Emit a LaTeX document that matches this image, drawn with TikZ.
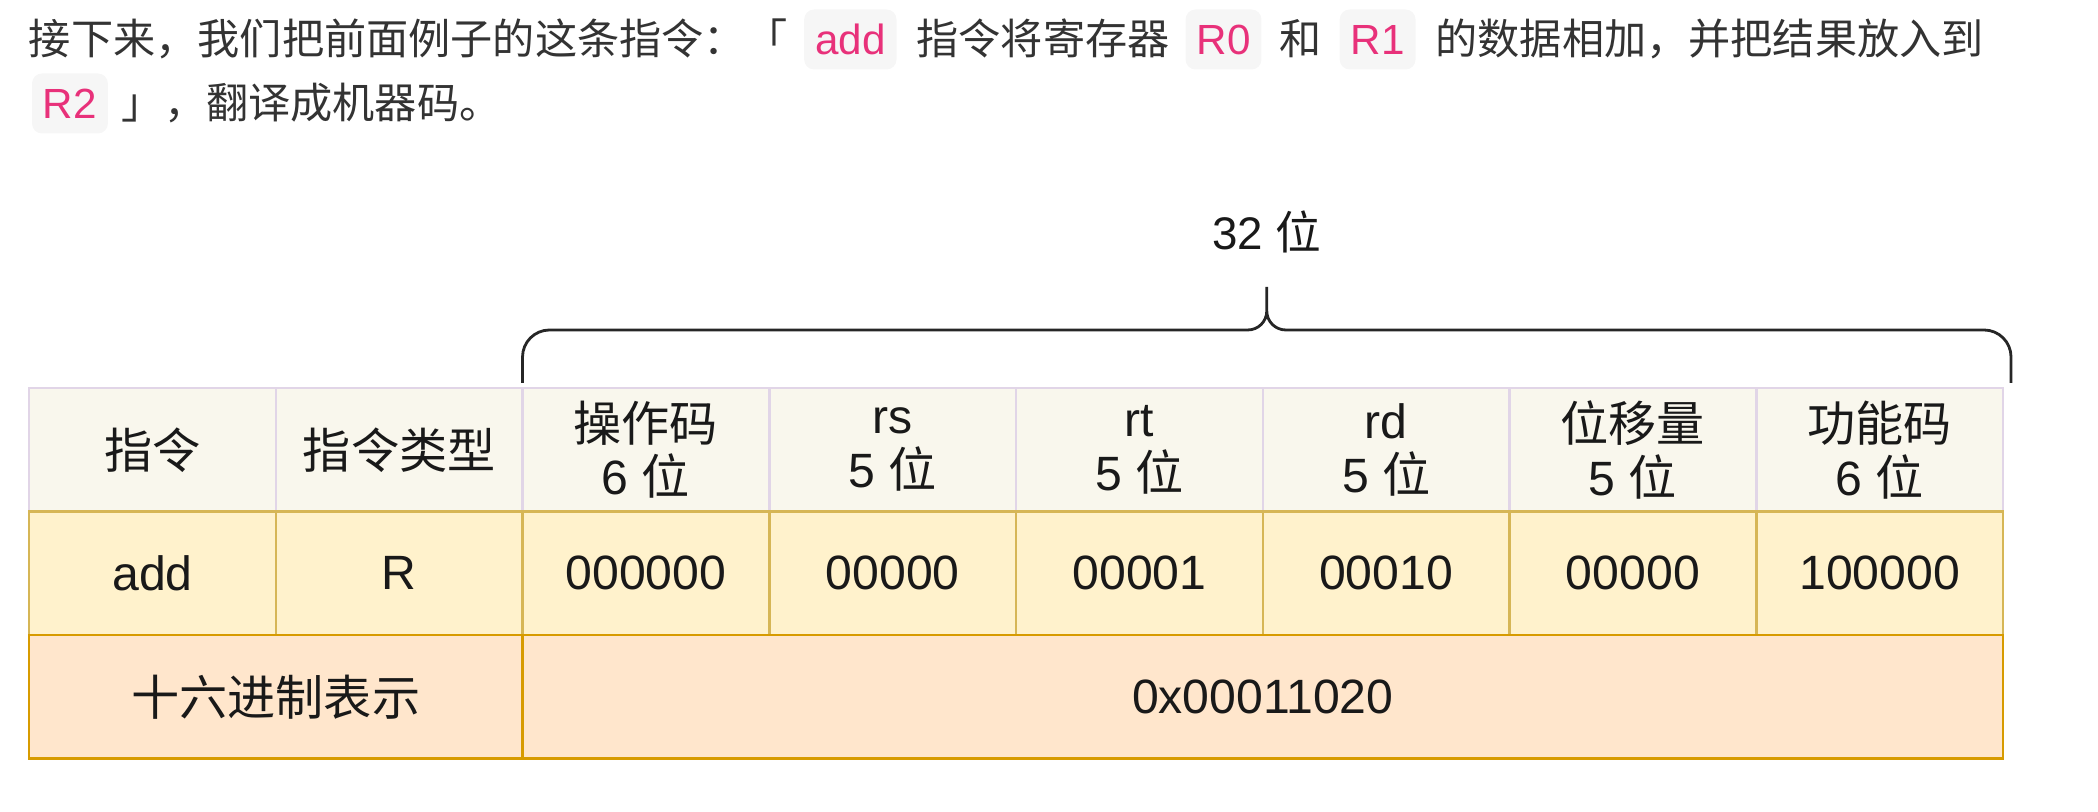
\documentclass[tikz,border=0pt]{standalone}
\usepackage{fontspec}
\setmainfont{Liberation Sans}
\newfontfamily\cjk{Noto Sans CJK SC}
\usetikzlibrary{positioning,calc}

\definecolor{headfill}{HTML}{F9F7ED}
\definecolor{headline}{HTML}{E1D5E7}
\definecolor{datafill}{HTML}{FFF2CC}
\definecolor{dataline}{HTML}{D6B656}
\definecolor{hexfill}{HTML}{FFE6CC}
\definecolor{hexline}{HTML}{D79B00}
\definecolor{codefill}{HTML}{F6F6F6}
\definecolor{codetext}{HTML}{E8317A}
\definecolor{bodytext}{HTML}{333333}

\newcommand{\zh}[1]{{\cjk #1}}
\newcommand{\bodyfont}{\fontsize{12}{14}\selectfont}
\newcommand{\tabfont}{\fontsize{13.7}{15.3}\selectfont}

\tikzset{
  txtpart/.style={inner sep=0pt, outer sep=0pt, text=bodytext, font=\bodyfont\cjk},
  codebox/.style={fill=codefill, text=codetext, font=\bodyfont, rounded corners=0.1cm, inner xsep=0.11cm, inner ysep=0.145cm, text height=0.31cm, text depth=0pt, outer sep=0pt},
  tabcell/.style={minimum width=2.4675cm, minimum height=1.235cm, inner sep=0pt, outer sep=0pt, align=center, line width=0.7pt, font=\tabfont, text=black!90},
  headcell/.style={tabcell, fill=headfill, draw=headline},
  datacell/.style={tabcell, fill=datafill, draw=dataline},
  hexcell/.style={tabcell, fill=hexfill, draw=hexline},
  bracel/.style={line width=0.8pt, draw=black!85},
}

\begin{document}
\begin{tikzpicture}
\useasboundingbox (0,0) rectangle (20.98,8.12);

%text
\node[txtpart, anchor=base west] (t1) at (0.29,7.57) {接下来，我们把前面例子的这条指令：「};
\node[codebox, base right=0.16cm of t1] (c1) {add};
\node[txtpart, base right=0.2cm of c1] (t2) {指令将寄存器};
\node[codebox, base right=0.16cm of t2] (c2) {R0};
\node[txtpart, base right=0.18cm of c2] (t3) {和};
\node[codebox, base right=0.18cm of t3] (c3) {R1};
\node[txtpart, base right=0.2cm of c3] (t4) {的数据相加，并把结果放入到};
\node[codebox, anchor=base west] (c4) at (0.32,6.93) {R2};
\node[txtpart, base right=0.14cm of c4] (t5) {」，翻译成机器码。};

%header
\node[headcell] (h1) at (1.524,3.6225) {\zh{指令}};
\node[headcell, right=0pt of h1] (h2) {\zh{指令类型}};
\node[headcell, right=0pt of h2] (h3) {\zh{操作码}\\6 \zh{位}};
\node[headcell, right=0pt of h3] (h4) {rs\\5 \zh{位}};
\node[headcell, right=0pt of h4] (h5) {rt\\5 \zh{位}};
\node[headcell, right=0pt of h5] (h6) {rd\\5 \zh{位}};
\node[headcell, right=0pt of h6] (h7) {\zh{位移量}\\5 \zh{位}};
\node[headcell, right=0pt of h7] (h8) {\zh{功能码}\\6 \zh{位}};

%data
\node[datacell, below=0pt of h1] (d1) {add};
\node[datacell, right=0pt of d1] (d2) {R};
\node[datacell, right=0pt of d2] (d3) {000000};
\node[datacell, right=0pt of d3] (d4) {00000};
\node[datacell, right=0pt of d4] (d5) {00001};
\node[datacell, right=0pt of d5] (d6) {00010};
\node[datacell, right=0pt of d6] (d7) {00000};
\node[datacell, right=0pt of d7] (d8) {100000};

%hex
\node[hexcell, minimum width=4.935cm, anchor=north west] (x1) at (d1.south west) {\zh{十六进制表示}};
\node[hexcell, minimum width=14.805cm, right=0pt of x1] (x2) {0x00011020};

%brace
\coordinate (bl) at ([yshift=0.05cm]h3.north west);
\coordinate (br) at ([xshift=0.08cm,yshift=0.05cm]h8.north east);
\coordinate (tip) at ($(bl)!0.5!(br)+(0,0.96)$);
\draw[bracel] (bl) -- ++(0,0.26) arc (180:90:0.27) -- ($(tip)+(-0.19,-0.43)$) arc (270:360:0.19) -- (tip)
  -- ++(0,-0.24) arc (180:270:0.19) -- ($(br)+(-0.27,0.53)$) arc (90:0:0.27) -- (br);
\node[font=\fontsize{13}{15}\selectfont, anchor=base, text=black!90] (bits) at ($(tip)+(0,0.37)$) {32 \zh{位}};
\end{tikzpicture}
\end{document}
